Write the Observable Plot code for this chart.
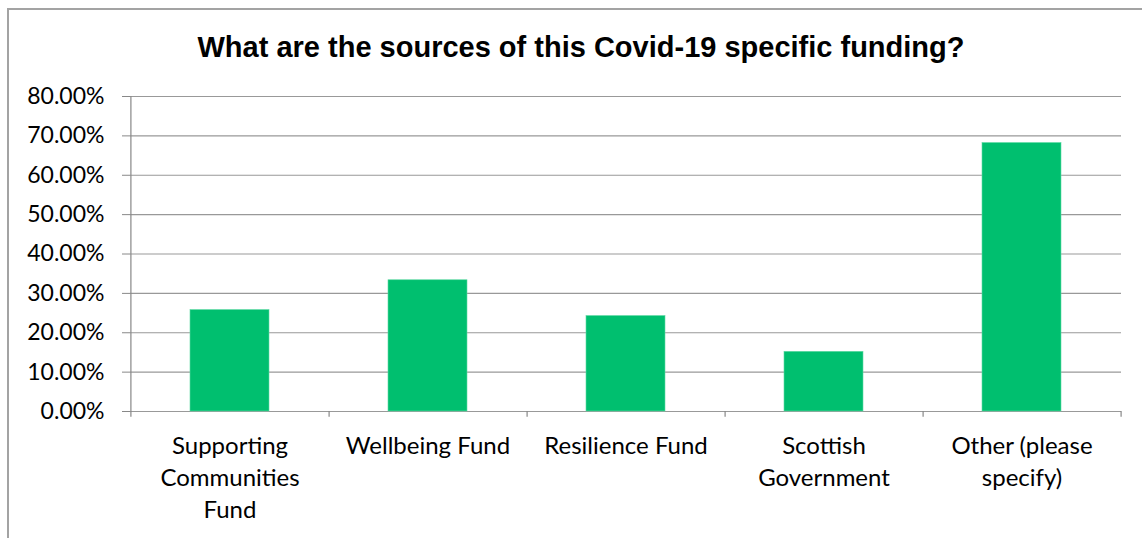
<!DOCTYPE html>
<html>
<head>
<meta charset="utf-8">
<script src="https://cdn.jsdelivr.net/npm/d3@7"></script>
<script src="https://cdn.jsdelivr.net/npm/@observablehq/plot@0.6"></script>
<style>
  html, body { margin: 0; padding: 0; background: #fff; }
  #wrap { position: relative; width: 1142px; height: 538px; overflow: hidden; }
  #frame { position: absolute; left: 7px; top: 8px; width: 1160px; height: 560px; border: 2px solid #a3a3a3; box-sizing: border-box; }
  #title { position: absolute; left: 0; width: 1162px; top: 30px; text-align: center;
           font-family: "Liberation Sans", Arial, sans-serif; font-weight: bold; font-size: 29px; line-height: 34px; color: #000; margin: 0; }
  #chart { position: absolute; left: 0; top: 0; }
</style>
</head>
<body>
<div id="wrap">
  <div id="frame"></div>
  <h1 id="title">What are the sources of this Covid-19 specific funding?</h1>
  <div id="chart"></div>
</div>
<script>
const categories = ["Supporting Communities Fund", "Wellbeing Fund", "Resilience Fund", "Scottish Government", "Other (please specify)"];
const tickLabels = ["Supporting\nCommunities\nFund", "Wellbeing Fund", "Resilience Fund", "Scottish\nGovernment", "Other (please\nspecify)"];
const shares = [0.2576, 0.3333, 0.2424, 0.1515, 0.6818];
const yTicks = [0, 0.1, 0.2, 0.3, 0.4, 0.5, 0.6, 0.7, 0.8];

const data = categories.map((c, i) => ({category: c, share: shares[i], label: tickLabels[i]}));
const labelOf = new Map(data.map(d => [d.category, d.label]));

const W = 1142, H = 538, mL = 130, mR = 21, mT = 96, mB = 127;
const step = (W - mL - mR) / categories.length;
const fmt = d3.format(".2%");
const font = "Lato, 'Open Sans', sans-serif";

const chart = Plot.plot({
  width: W,
  height: H,
  marginLeft: mL,
  marginRight: mR,
  marginTop: mT,
  marginBottom: mB,
  style: {fontFamily: font, background: "transparent", color: "#000"},
  x: {domain: categories, paddingInner: 0.6, paddingOuter: 0.3, label: null},
  y: {domain: [0, 0.8], label: null},
  marks: [
    Plot.ruleY(yTicks, {stroke: "#999", strokeWidth: 1.2}),
    Plot.barY(data, {x: "category", y: "share", fill: "#00BF6F", stroke: "#5ed9a3", strokeWidth: 0.6}),
    // left axis line
    Plot.ruleX([categories[0]], {x: d => d, dx: -step / 2, y1: -0.0145, y2: 0.8, stroke: "#888", strokeWidth: 1.2}),
    // category boundary tick marks
    Plot.ruleX(categories, {x: d => d, dx: step / 2, y1: -0.0145, y2: 0, stroke: "#888", strokeWidth: 1.2}),
    Plot.axisY({ticks: yTicks, tickFormat: fmt, tickSize: 8, tickPadding: 18, stroke: "#888", fontSize: 23, fill: "#000", label: null}),
    Plot.axisX({tickSize: 0, tickPadding: 20, fontSize: 24, lineHeight: 1.333, tickFormat: d => labelOf.get(d), fill: "#000", label: null})
  ]
});
document.getElementById("chart").appendChild(chart);
</script>
</body>
</html>
